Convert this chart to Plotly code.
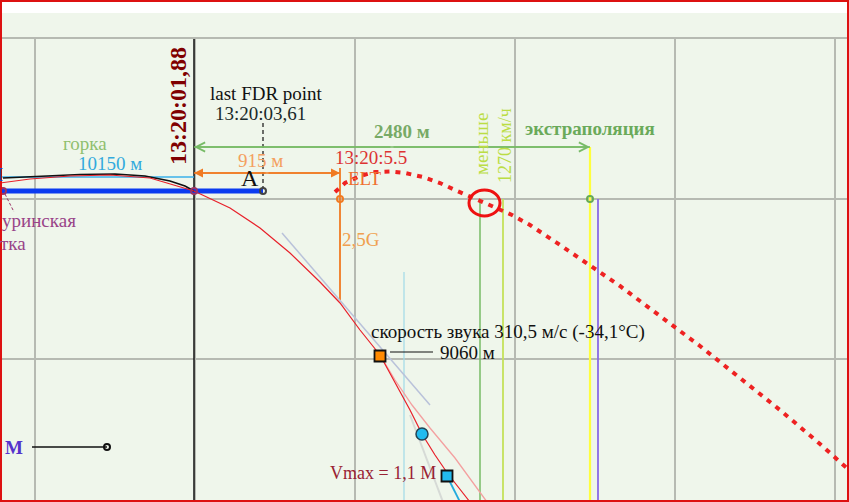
import plotly.graph_objects as go

# ---------------- data (diagram units: 1 unit = 1 screen px) ----------------
W, H, TOP = 849, 502, 39

# trajectory curves
arc_x = [3, 40, 80, 115, 145, 170, 185, 194]
arc_y = [178, 176, 174.5, 174, 176, 181, 186, 191]
traj_x = [0, 30, 70, 110, 150, 194, 230, 260, 290, 320, 340, 360, 380, 395, 410, 422, 435, 448, 470]
traj_y = [183, 179, 176, 175, 178, 191, 208, 228, 253, 282, 303, 330, 355, 383, 410, 434, 455, 474, 502]
pink_x = [380, 395, 412, 430, 455, 487]
pink_y = [355, 380, 405, 428, 458, 502]
tangent_x = [282, 430]
tangent_y = [233, 405]
faint_x = [410, 443]
faint_y = [415, 502]
cyan_tail_x = [447, 460]
cyan_tail_y = [476, 502]
elt_x = [335, 345, 360, 375, 390, 405, 423, 440, 455, 470, 485, 512, 530, 563, 590, 620, 660, 700, 740, 780, 820, 849]
elt_y = [192, 183, 176, 172, 171.5, 173, 177, 183, 190, 197, 203, 215, 225, 247, 266, 286, 316, 346, 378, 410, 444, 470]

# vertical guide lines
guide_x = [194, 340, 404, 480, 503, 590, 598]
guide_top = [39, 168, 272, 199, 199, 147, 199]
guide_bottom = [502, 300, 502, 502, 502, 502, 502]
guide_color = ["#111111", "#f07a22", "#9fdbe8", "#77bb66", "#c4e25a", "#ffff3c", "#8a6ae6"]
guide_width = [1.5, 1.8, 1.2, 1.5, 1.8, 2.2, 1.8]

# horizontal segments
seg_x0 = [0, 0, 32, 390]
seg_x1 = [263, 194, 107, 433]
seg_y = [191, 177, 447, 352]
seg_color = ["#0b3bf0", "#3ab0ea", "#111111", "#111111"]
seg_width = [5, 1.5, 1.5, 1.2]

# dimension arrows (y, x_left, x_right, colour)
dim_y = [173, 147]
dim_x0 = [194, 194]
dim_x1 = [340, 590]
dim_color = ["#f07a22", "#77bb66"]

# marker points
pt_x = [3, 194, 263, 340, 590, 107]
pt_y = [191, 191, 191, 199, 199, 447]
pt_color = ["#993366", "#993366", "#444444", "#f07a22", "#66aa55", "#111111"]
sq_x = [380, 447]
sq_y = [356, 476]
sq_fill = ["#ff8a00", "#22bbee"]
circ_x = [422]
circ_y = [434]

# text labels
lab_text = ["горка", "10150 м", "last FDR point", "13:20:03,61", "915 м", "A",
            "2480 м", "экстраполяция", "13:20:5.5", "ELT", "2,5G",
            "скорость звука 310,5 м/с (-34,1°C)", "9060 м", "Vmax = 1,1 M", "M",
            "уринская", "тка"]
lab_x = [85, 110, 266, 260, 260, 250, 402, 590, 371, 364, 361, 508, 467, 383, 14, 39, 13]
lab_y = [143, 163, 93, 113, 160, 178, 131, 128, 157, 178, 239, 332, 352, 473, 447, 220, 243]
lab_color = ["#8fbf6f", "#33aadd", "#111111", "#1a2a2a", "#f4a060", "#111111",
             "#77aa66", "#6aaa5a", "#dd3333", "#f07030", "#f0a050",
             "#111111", "#111111", "#992233", "#5533cc", "#994488", "#994488"]
lab_size = [19, 19, 19, 19, 19, 24, 19, 19, 19, 19, 19, 19, 19, 18, 19, 19, 19]
lab_bold = [False, False, False, False, False, False, True, True, False, False, False,
            False, False, False, True, False, False]

rot_text = ["13:20:01,88", "меньше", "1270 км/ч"]
rot_x = [178, 481, 505]
rot_y = [106, 144, 146]
rot_color = ["#800000", "#bbdd44", "#bbdd44"]
rot_size = [24, 19, 18]
rot_bold = [True, False, False]

# ---------------- figure ----------------
fig = go.Figure()


def add_line(x, y, color, width, dash=None):
    fig.add_trace(go.Scatter(x=x, y=y, mode="lines",
                             line=dict(color=color, width=width, dash=dash),
                             hoverinfo="skip", showlegend=False))


for gx, gt, gb, gc, gw in zip(guide_x, guide_top, guide_bottom, guide_color, guide_width):
    add_line([gx, gx], [gt, gb], gc, gw)

# dashed marker from last FDR point
add_line([263, 263], [123, 189], "#111111", 1.2, "4px,3px")
# purple leader
add_line([5, 14], [194, 212], "#993366", 1, "3px,2px")

add_line(tangent_x, tangent_y, "#b9c2da", 1.5)
add_line(faint_x, faint_y, "#d6dad6", 2)
add_line(pink_x, pink_y, "#f4a0a0", 1.3)
add_line(cyan_tail_x, cyan_tail_y, "#22aadd", 1.8)

for x0, x1, y, c, w in zip(seg_x0, seg_x1, seg_y, seg_color, seg_width):
    add_line([x0, x1], [y, y], c, w)

add_line(arc_x, arc_y, "#111111", 1.6)
add_line(traj_x, traj_y, "#e8202a", 1.2)

for y, x0, x1, c in zip(dim_y, dim_x0, dim_x1, dim_color):
    add_line([x0, x1], [y, y], c, 1.5)

# ELT extrapolation (dotted)
add_line(elt_x, elt_y, "#ee2222", 4, "5px,6px")

# markers
fig.add_trace(go.Scatter(x=pt_x, y=pt_y, mode="markers",
                         marker=dict(symbol="circle-open", size=6, color=pt_color,
                                     line=dict(width=2, color=pt_color)),
                         hoverinfo="skip", showlegend=False))
fig.add_trace(go.Scatter(x=sq_x, y=sq_y, mode="markers",
                         marker=dict(symbol="square", size=11, color=sq_fill,
                                     line=dict(width=1.8, color="#111111")),
                         hoverinfo="skip", showlegend=False))
fig.add_trace(go.Scatter(x=circ_x, y=circ_y, mode="markers",
                         marker=dict(symbol="circle", size=12, color="#22bbee",
                                     line=dict(width=1.5, color="#224455")),
                         hoverinfo="skip", showlegend=False))

annotations = []
for y, x0, x1, c in zip(dim_y, dim_x0, dim_x1, dim_color):
    mid = (x0 + x1) / 2
    for tip in (x0, x1):
        annotations.append(dict(x=tip, y=y, ax=mid, ay=y, xref="x", yref="y",
                                axref="x", ayref="y", text="", showarrow=True,
                                arrowhead=2 if c == "#f07a22" else 5,
                                arrowsize=1.2, arrowwidth=1.5, arrowcolor=c))

for t, x, y, c, s, b in zip(lab_text, lab_x, lab_y, lab_color, lab_size, lab_bold):
    annotations.append(dict(x=x, y=y, xref="x", yref="y", text=f"<b>{t}</b>" if b else t,
                            showarrow=False, font=dict(color=c, size=s),
                            xanchor="center", yanchor="middle"))
# clipped blue letter at the left border
annotations.append(dict(x=0, y=175, xref="x", yref="y", text="<b>М</b>", showarrow=False,
                        font=dict(color="#2244cc", size=18), xanchor="center",
                        yanchor="middle", xshift=-6))

for t, x, y, c, s, b in zip(rot_text, rot_x, rot_y, rot_color, rot_size, rot_bold):
    annotations.append(dict(x=x, y=y, xref="x", yref="y", text=f"<b>{t}</b>" if b else t,
                            showarrow=False, textangle=-90, font=dict(color=c, size=s),
                            xanchor="center", yanchor="middle"))

top_paper = 1 + TOP / (H - TOP)
white_paper = 1 + (TOP - 13) / (H - TOP)
shapes = [
    dict(type="rect", xref="paper", yref="paper", x0=0, x1=1, y0=white_paper, y1=top_paper,
         fillcolor="white", line=dict(width=0), layer="below"),
    dict(type="circle", xref="x", yref="y", x0=469, x1=500, y0=190, y1=216,
         line=dict(color="#ee1111", width=3)),
    dict(type="rect", xref="paper", yref="paper", x0=0, x1=1, y0=0, y1=top_paper,
         line=dict(color="#dd1111", width=4), fillcolor="rgba(0,0,0,0)"),
]

fig.update_layout(
    width=W, height=H,
    margin=dict(l=0, r=0, t=TOP, b=0, pad=0),
    paper_bgcolor="#eff6eb", plot_bgcolor="#eff6eb",
    font=dict(family='"Liberation Serif", serif', size=19),
    showlegend=False, hovermode=False,
    annotations=annotations, shapes=shapes,
    xaxis=dict(range=[0, W], showgrid=True, tick0=35, dtick=160, gridcolor="#b6bab2",
               gridwidth=2, showticklabels=False, ticks="", zeroline=False,
               showline=True, mirror=True, linecolor="#b6bab2", linewidth=2, fixedrange=True),
    yaxis=dict(range=[H, TOP], showgrid=True, tick0=39, dtick=160, gridcolor="#b6bab2",
               gridwidth=2, showticklabels=False, ticks="", zeroline=False,
               showline=False, fixedrange=True),
)

fig.write_html("out.html", config={"displayModeBar": False},
               post_script="document.body.style.margin='0';document.body.style.overflow='hidden';")
